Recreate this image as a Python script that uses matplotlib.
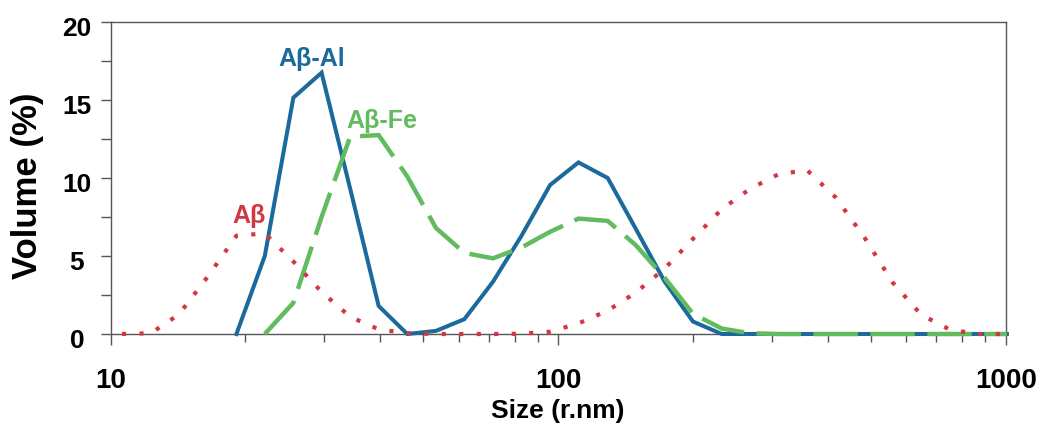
import numpy as np
import matplotlib
matplotlib.use("Agg")
import matplotlib.pyplot as plt
from matplotlib.ticker import FixedLocator, FixedFormatter, LogLocator, NullFormatter, MultipleLocator
import matplotlib.transforms as mtransforms

# Hydrodynamic radius bins (nm) and volume distributions (%)
size_nm = [10.6, 12.3, 14.2, 16.5, 19.1, 22.1, 25.6, 29.6, 34.3, 39.7, 46.0, 53.3,
           61.7, 71.5, 82.8, 95.9, 111, 129, 149, 173, 200, 232, 268, 311, 360,
           417, 483, 559, 647, 750, 868, 1006]
nan = np.nan
abeta = [0, 0.05, 1.25, 3.7, 6.3, 6.45, 4.65, 2.7, 1.1, 0.3, 0.05, 0,
         0, 0, 0.02, 0.15, 0.68, 1.5, 2.65, 4.2, 6.1, 8.0, 9.3, 10.25, 10.5,
         8.75, 6.2, 3.3, 1.24, 0.28, 0, 0]
abeta_al = [nan, nan, nan, nan, 0, 5.0, 15.15, 16.75, 9.3, 1.8, 0, 0.2,
            0.95, 3.35, 6.3, 9.55, 11.0, 10.0, 6.75, 3.35, 0.8, 0, 0, 0, 0,
            0, 0, 0, 0, 0, 0, 0]
abeta_fe = [nan, nan, nan, nan, nan, 0, 2.0, 7.5, 12.65, 12.75, 10.1, 6.8,
            5.2, 4.85, 5.55, 6.55, 7.4, 7.25, 5.7, 3.6, 1.3, 0.35, 0.05, 0, 0,
            0, 0, 0, 0, 0, 0, 0]

x_major = [10, 100, 1000]
x_major_labels = ["10", "100", "1000"]
y_major = [0, 5, 10, 15, 20]

series_labels = ["A\u03b2", "A\u03b2-Al", "A\u03b2-Fe"]
label_pos = [(20.4, 7.1), (28.2, 17.2), (40.3, 13.2)]

RED = "#d23746"
BLUE = "#1b6a9b"
GREEN = "#62bb5e"
AXIS_GREY = "#555555"

plt.rcParams["lines.scale_dashes"] = False
plt.rcParams["font.family"] = ["Liberation Sans", "DejaVu Sans"]

fig = plt.figure(figsize=(10.39, 4.25), dpi=100)
ax = fig.add_axes([0.1065, 0.2141, 0.8615, 0.7341])

ax.plot(size_nm, abeta_al, color=BLUE, lw=2.9, solid_joinstyle="miter",
        clip_on=False, zorder=3)
ax.plot(size_nm, abeta_fe, color=GREEN, lw=3.2, dashes=(32, 9),
        dash_capstyle="butt", dash_joinstyle="miter", clip_on=False, zorder=4)
ax.plot(size_nm, abeta, color=RED, lw=3.0, dashes=(3.0, 9.6),
        dash_capstyle="butt", clip_on=False, zorder=5)

for text, (lx, ly), col in zip(series_labels, label_pos, [RED, BLUE, GREEN]):
    ax.text(lx, ly, text, color=col, fontsize=18, fontweight="bold",
            ha="center", va="baseline", zorder=6)

ax.set_xscale("log")
ax.set_xlim(10, 1000)
ax.set_ylim(0, 20)

ax.xaxis.set_major_locator(FixedLocator(x_major))
ax.xaxis.set_major_formatter(FixedFormatter(x_major_labels))
ax.xaxis.set_minor_locator(LogLocator(base=10, subs=np.arange(2, 10)))
ax.xaxis.set_minor_formatter(NullFormatter())
ax.yaxis.set_major_locator(FixedLocator(y_major))
ax.yaxis.set_minor_locator(MultipleLocator(2.5))

for sp in ax.spines.values():
    sp.set_color(AXIS_GREY)
    sp.set_linewidth(1.0)

ax.tick_params(axis="x", which="major", direction="out", length=7.7, width=1,
               color=AXIS_GREY, pad=16.5, labelsize=20)
ax.tick_params(axis="x", which="minor", direction="out", length=5.8, width=1,
               color=AXIS_GREY)
ax.tick_params(axis="y", which="both", direction="out", length=7.5, width=1,
               color=AXIS_GREY)
ax.tick_params(axis="y", which="major", pad=16.8, labelsize=19)

for tick in ax.xaxis.get_major_ticks():
    tick.label1.set_fontweight("bold")

shift = mtransforms.ScaledTranslation(0, -4 / 100, fig.dpi_scale_trans)
for tick in ax.yaxis.get_major_ticks():
    tick.label1.set_fontweight("bold")
    tick.label1.set_horizontalalignment("center")
    tick.label1.set_transform(tick.label1.get_transform() + shift)

ax.set_xlabel("Size (r.nm)", fontsize=19, fontweight="bold")
ax.xaxis.set_label_coords(0.5, -0.247)
ax.xaxis.label.set_verticalalignment("center")

ax.set_ylabel("Volume (%)", fontsize=25, fontweight="bold")
ax.yaxis.label.set_rotation_mode("default")
ax.yaxis.label.set_verticalalignment("center")
ax.yaxis.label.set_horizontalalignment("center")
ax.yaxis.set_label_coords(-0.0924, 0.474)

fig.savefig("out.png", dpi=100)
